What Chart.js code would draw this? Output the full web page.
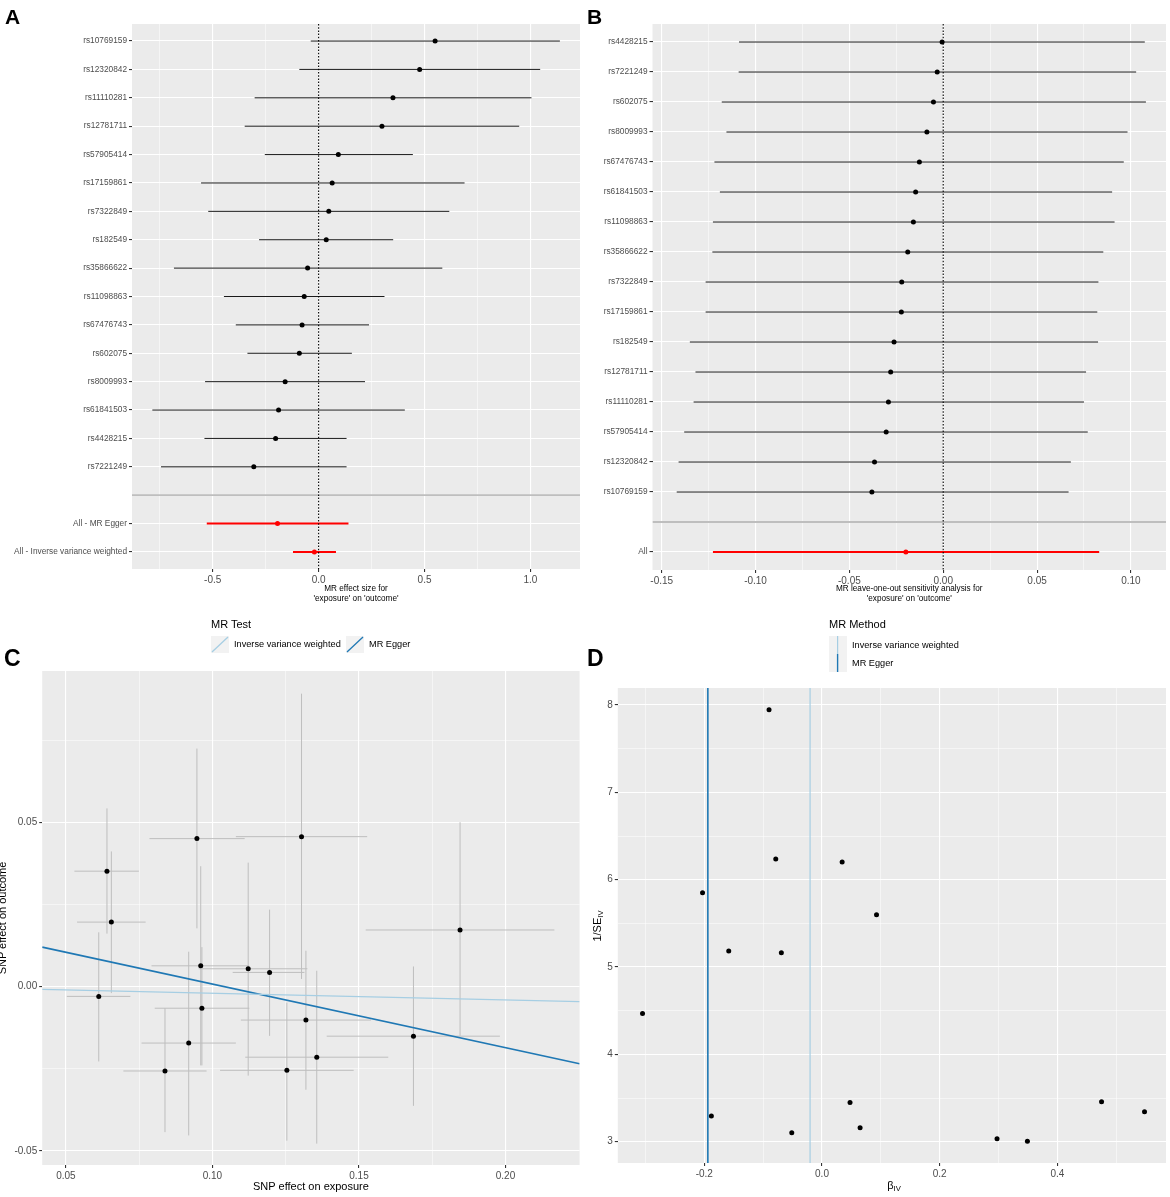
<!DOCTYPE html>
<html>
<head>
<meta charset="utf-8">
<title>MR plots</title>
<script src="https://cdn.jsdelivr.net/npm/chart.js@4.4.1/dist/chart.umd.min.js"></script>
<style>
html, body { margin: 0; padding: 0; background: #fff; }
#fig { position: relative; width: 1170px; height: 1197px; overflow: hidden;
       font-family: 'Liberation Sans', Arial, Helvetica, sans-serif; color: #000; }
canvas { position: absolute; }
.lab { position: absolute; font-weight: bold; line-height: 1; }
.txt { position: absolute; white-space: nowrap; line-height: 1; }
.rot { position: absolute; white-space: nowrap; line-height: 1; transform: translate(-50%, -50%) rotate(-90deg); }
.key { position: absolute; }
sub { font-size: 0.7em; vertical-align: -0.3em; line-height: 0; }
</style>
</head>
<body>
<div id="fig">
  <canvas id="cA" width="585" height="610" style="left:0;top:0"></canvas>
  <canvas id="cB" width="585" height="610" style="left:585px;top:0"></canvas>
  <canvas id="cC" width="585" height="587" style="left:0;top:610px"></canvas>
  <canvas id="cD" width="585" height="587" style="left:585px;top:610px"></canvas>

  <div class="lab" style="left:5px;top:6px;font-size:21px">A</div>
  <div class="lab" style="left:587px;top:6px;font-size:21px">B</div>
  <div class="lab" style="left:4px;top:647px;font-size:23px">C</div>
  <div class="lab" style="left:587px;top:647px;font-size:23px">D</div>

  <!-- legend C -->
  <div class="txt" style="left:211px;top:619px;font-size:11px">MR Test</div>
  <svg class="key" style="left:211px;top:636px" width="18" height="17">
    <rect width="18" height="17" fill="#F2F2F2"/>
    <line x1="1" y1="16" x2="17" y2="1" stroke="#A6CEE3" stroke-width="1.3"/>
  </svg>
  <div class="txt" style="left:234px;top:636px;font-size:9.2px;line-height:17px">Inverse variance weighted</div>
  <svg class="key" style="left:346px;top:636px" width="18" height="17">
    <rect width="18" height="17" fill="#F2F2F2"/>
    <line x1="1" y1="16" x2="17" y2="1" stroke="#1F78B4" stroke-width="1.3"/>
  </svg>
  <div class="txt" style="left:369px;top:636px;font-size:9.2px;line-height:17px">MR Egger</div>

  <!-- legend D -->
  <div class="txt" style="left:829px;top:619px;font-size:11px">MR Method</div>
  <svg class="key" style="left:829px;top:636px" width="18" height="36">
    <rect width="18" height="36" fill="#F2F2F2"/>
    <line x1="8.6" y1="0" x2="8.6" y2="18" stroke="#A6CEE3" stroke-width="1.2"/>
    <line x1="8.6" y1="18" x2="8.6" y2="36" stroke="#1F78B4" stroke-width="1.4"/>
  </svg>
  <div class="txt" style="left:852px;top:636px;font-size:9.2px;line-height:18px">Inverse variance weighted</div>
  <div class="txt" style="left:852px;top:654px;font-size:9.2px;line-height:18px">MR Egger</div>

  <!-- axis titles that need subscripts or clipping -->
  <div class="rot" style="left:2px;top:918px;font-size:11px">SNP effect on outcome</div>
  <div class="rot" style="left:597px;top:926px;font-size:11px">1/SE<sub>IV</sub></div>
  <div class="txt" style="left:894px;top:1185px;font-size:11px;transform:translate(-50%,-50%)">&beta;<sub>IV</sub></div>
</div>

<script>
// ---------- A: single SNP effects ----------
const snpA = ['rs10769159', 'rs12320842', 'rs11110281', 'rs12781711', 'rs57905414', 'rs17159861',
  'rs7322849', 'rs182549', 'rs35866622', 'rs11098863', 'rs67476743', 'rs602075', 'rs8009993',
  'rs61841503', 'rs4428215', 'rs7221249'];
const betaA = [0.550, 0.477, 0.351, 0.299, 0.093, 0.064, 0.048, 0.036, -0.052, -0.068, -0.078,
  -0.091, -0.158, -0.189, -0.203, -0.306];
const loA = [-0.037, -0.091, -0.302, -0.349, -0.254, -0.555, -0.521, -0.281, -0.683, -0.447, -0.391,
  -0.336, -0.536, -0.785, -0.539, -0.744];
const hiA = [1.139, 1.046, 1.005, 0.947, 0.445, 0.689, 0.617, 0.352, 0.584, 0.311, 0.238,
  0.157, 0.219, 0.407, 0.132, 0.132];
const sumLabelsA = ['All - MR Egger', 'All - Inverse variance weighted'];
const sumBetaA = [-0.194, -0.020];
const sumLoA = [-0.528, -0.121];
const sumHiA = [0.141, 0.082];
const xTicksA = [-0.75, -0.5, -0.25, 0, 0.25, 0.5, 0.75, 1.0];
const xMajorA = [-0.5, 0, 0.5, 1.0];

// ---------- B: leave-one-out ----------
const snpB = ['rs4428215', 'rs7221249', 'rs602075', 'rs8009993', 'rs67476743', 'rs61841503',
  'rs11098863', 'rs35866622', 'rs7322849', 'rs17159861', 'rs182549', 'rs12781711', 'rs11110281',
  'rs57905414', 'rs12320842', 'rs10769159'];
const betaB = [-0.0006, -0.0032, -0.0052, -0.0087, -0.0127, -0.0147, -0.0159, -0.0189, -0.0221,
  -0.0223, -0.0262, -0.0280, -0.0292, -0.0304, -0.0366, -0.0380];
const loB = [-0.1088, -0.1090, -0.1180, -0.1155, -0.1219, -0.1190, -0.1227, -0.1230, -0.1266,
  -0.1266, -0.1350, -0.1320, -0.1330, -0.1380, -0.1410, -0.1420];
const hiB = [0.1074, 0.1028, 0.1080, 0.0982, 0.0962, 0.0900, 0.0913, 0.0853, 0.0827,
  0.0821, 0.0825, 0.0761, 0.0750, 0.0770, 0.0680, 0.0668];
const sumLabelsB = ['All'];
const sumBetaB = [-0.0199];
const sumLoB = [-0.1227];
const sumHiB = [0.0831];
const xTicksB = [-0.15, -0.125, -0.1, -0.075, -0.05, -0.025, 0, 0.025, 0.05, 0.075, 0.1];
const xMajorB = [-0.15, -0.1, -0.05, 0, 0.05, 0.1];

// ---------- C: scatter of SNP effects ----------
const xC    = [0.0655, 0.0640, 0.0947, 0.1304, 0.1845, 0.0612, 0.0960, 0.1122, 0.0964, 0.1195, 0.0919, 0.0838, 0.1254, 0.1319, 0.1356, 0.1686];
const xLoC  = [0.0538, 0.0529, 0.0785, 0.1080, 0.1523, 0.0503, 0.0792, 0.0953, 0.0803, 0.1069, 0.0758, 0.0696, 0.1026, 0.1097, 0.1112, 0.1390];
const xHiC  = [0.0772, 0.0749, 0.1110, 0.1528, 0.2167, 0.0720, 0.1125, 0.1324, 0.1126, 0.1314, 0.1080, 0.0980, 0.1482, 0.1541, 0.1600, 0.1981];
const yC    = [0.0196, 0.0351, 0.0450, 0.0456, 0.0172, -0.0030, 0.0063, 0.0054, -0.0066, 0.0043, -0.0172, -0.0257, -0.0255, -0.0102, -0.0215, -0.0151];
const yLoC  = [-0.0020, 0.0161, 0.0177, 0.0023, -0.0150, -0.0228, -0.0240, -0.0271, -0.0240, -0.0150, -0.0453, -0.0443, -0.0469, -0.0314, -0.0478, -0.0363];
const yHiC  = [0.0411, 0.0542, 0.0724, 0.0891, 0.0500, 0.0165, 0.0366, 0.0377, 0.0120, 0.0234, 0.0106, -0.0066, -0.0049, 0.0109, 0.0048, 0.0061];
const methods = ['Inverse variance weighted', 'MR Egger'];
const methodColors = ['#A6CEE3', '#1F78B4'];
const methodSlope = [-0.0203, -0.1936];
const methodIntercept = [0, 0.0201];
const xTicksC = [0.05, 0.075, 0.1, 0.125, 0.15, 0.175, 0.2];
const xMajorC = [0.05, 0.1, 0.15, 0.2];
const yTicksC = [-0.05, -0.025, 0, 0.025, 0.05, 0.075];
const yMajorC = [-0.05, 0, 0.05];

// ---------- D: funnel ----------
const betaD = [-0.090, -0.0786, 0.0342, -0.203, 0.0926, -0.1585, -0.0691, -0.305, 0.0476, 0.475, 0.548, -0.188, 0.0647, -0.0514, 0.2974, 0.349];
const invSeD = [7.947, 6.237, 6.203, 5.851, 5.598, 5.183, 5.164, 4.469, 3.450, 3.457, 3.343, 3.293, 3.160, 3.103, 3.034, 3.004];
const methodBetaD = [-0.0203, -0.194];
const xTicksD = [-0.3, -0.2, -0.1, 0, 0.1, 0.2, 0.3, 0.4, 0.5];
const xMajorD = [-0.2, 0, 0.2, 0.4];
const yTicksD = [3, 3.5, 4, 4.5, 5, 5.5, 6, 6.5, 7, 7.5, 8];
const yMajorD = [3, 4, 5, 6, 7, 8];

Chart.defaults.font.family = "'Liberation Sans', Arial, Helvetica, sans-serif";
Chart.defaults.color = '#4D4D4D';
Chart.defaults.animation = false;
Chart.defaults.events = [];

const panelBg = {
  id: 'panelBg',
  beforeDraw(chart) {
    const { ctx, chartArea: a } = chart;
    ctx.save();
    ctx.fillStyle = '#EBEBEB';
    ctx.fillRect(a.left, a.top, a.right - a.left, a.bottom - a.top);
    ctx.restore();
  }
};

const near = (a, b) => Math.abs(a - b) < 1e-9;
const isMajor = (v, majors) => majors.some(m => near(m, v));

function axis(o) {
  const marked = o.marked || o.majors;
  return {
    type: 'linear', position: o.pos, min: o.min, max: o.max, reverse: !!o.reverse,
    afterBuildTicks: s => { s.ticks = o.ticks.map(v => ({ value: v })); },
    afterFit: s => { if (o.pos === 'left') s.width = o.size; else s.height = o.size; },
    ticks: {
      autoSkip: false, maxRotation: 0, minRotation: 0, padding: 2,
      font: { size: o.fontSize }, color: '#4D4D4D',
      callback: v => isMajor(v, o.majors) ? o.labelFor(v) : ''
    },
    grid: {
      color: '#FFFFFF',
      lineWidth: c => (c.tick && isMajor(c.tick.value, o.majors)) ? 1.1 : 0.5,
      tickColor: c => (c.tick && isMajor(c.tick.value, marked)) ? '#333333' : 'rgba(0,0,0,0)',
      tickLength: 3
    },
    border: { display: false },
    title: o.title || { display: false }
  };
}

function seg(x1, y1, x2, y2, color, width, dash, order) {
  return {
    data: [{ x: x1, y: y1 }, { x: x2, y: y2 }],
    showLine: true, borderColor: color, borderWidth: width, borderDash: dash || [],
    pointRadius: 0, fill: false, tension: 0, order: order
  };
}

function forest(id, snps, beta, lo, hi, sumLabels, sumBeta, sumLo, sumHi, xs) {
  const rows = snps.concat([''], sumLabels);
  const n = rows.length;
  const sep = snps.length + 1;
  const pts = [], cols = [];
  snps.forEach((s, i) => { pts.push({ x: beta[i], y: i + 1 }); cols.push('#000000'); });
  sumLabels.forEach((s, j) => { pts.push({ x: sumBeta[j], y: sep + 1 + j }); cols.push('#FF0000'); });
  const sets = [{ data: pts, pointRadius: 2.5, pointBackgroundColor: cols, pointBorderColor: cols,
    pointBorderWidth: 0, order: 0 }];
  snps.forEach((s, i) => sets.push(seg(lo[i], i + 1, hi[i], i + 1, '#1A1A1A', 1, null, 2)));
  sumLabels.forEach((s, j) => sets.push(seg(sumLo[j], sep + 1 + j, sumHi[j], sep + 1 + j, '#FF0000', 2, null, 2)));
  sets.push(seg(0, 0.4, 0, n + 0.6, '#000000', 1.1, [1.5, 1.7], 1));
  sets.push(seg(xs.min, sep, xs.max, sep, '#BEBEBE', 1.8, null, 1));

  const rowPos = rows.map((r, i) => i + 1);
  new Chart(document.getElementById(id), {
    type: 'scatter',
    data: { datasets: sets },
    options: {
      responsive: false, animation: false,
      layout: { padding: xs.pad },
      plugins: { legend: { display: false }, tooltip: { enabled: false } },
      scales: {
        x: axis({ pos: 'bottom', min: xs.min, max: xs.max, ticks: xs.ticks, majors: xs.majors,
          labelFor: xs.labelFor, size: xs.h, fontSize: 10,
          title: { display: true, text: xs.title, color: '#000000',
            font: { size: 8.2, lineHeight: 1.15 }, padding: { top: 0, bottom: 7 } } }),
        y: axis({ pos: 'left', min: 0.4, max: n + 0.6, reverse: true,
          ticks: rowPos, majors: rowPos, marked: rowPos.filter(p => p !== sep),
          labelFor: v => rows[Math.round(v) - 1], size: xs.w, fontSize: 8.3 })
      }
    },
    plugins: [panelBg]
  });
}

forest('cA', snpA, betaA, loA, hiA, sumLabelsA, sumBetaA, sumLoA, sumHiA, {
  min: -0.881, max: 1.234, ticks: xTicksA, majors: xMajorA,
  labelFor: v => v.toFixed(1), w: 132, h: 41,
  pad: { left: 0, top: 24, right: 5, bottom: 0 },
  title: ['MR effect size for', "'exposure' on 'outcome'"]
});

forest('cB', snpB, betaB, loB, hiB, sumLabelsB, sumBetaB, sumLoB, sumHiB, {
  min: -0.1549, max: 0.1187, ticks: xTicksB, majors: xMajorB,
  labelFor: v => v.toFixed(2), w: 67.5, h: 40,
  pad: { left: 0, top: 24, right: 4, bottom: 0 },
  title: ['MR leave-one-out sensitivity analysis for', "'exposure' on 'outcome'"]
});

// ---------- C ----------
(function () {
  const xMin = 0.0419, xMax = 0.2253;
  const sets = [];
  methods.forEach((m, k) => {
    sets.push(seg(xMin, methodIntercept[k] + methodSlope[k] * xMin,
      xMax, methodIntercept[k] + methodSlope[k] * xMax, methodColors[k], k === 1 ? 1.6 : 1.3, null, 0));
  });
  sets.push({ data: xC.map((x, i) => ({ x: x, y: yC[i] })), pointRadius: 2.5,
    pointBackgroundColor: '#000000', pointBorderColor: '#000000', pointBorderWidth: 0, order: 1 });
  xC.forEach((x, i) => {
    sets.push(seg(x, yLoC[i], x, yHiC[i], '#BEBEBE', 1, null, 2));
    sets.push(seg(xLoC[i], yC[i], xHiC[i], yC[i], '#BEBEBE', 1, null, 2));
  });
  new Chart(document.getElementById('cC'), {
    type: 'scatter',
    data: { datasets: sets },
    options: {
      responsive: false, animation: false,
      layout: { padding: { left: 0, top: 61, right: 5.4, bottom: 0 } },
      plugins: { legend: { display: false }, tooltip: { enabled: false } },
      scales: {
        x: axis({ pos: 'bottom', min: xMin, max: xMax, ticks: xTicksC, majors: xMajorC,
          labelFor: v => v.toFixed(2), size: 32, fontSize: 10,
          title: { display: true, text: 'SNP effect on exposure', color: '#000000',
            font: { size: 11, lineHeight: 1.2 }, padding: { top: 0, bottom: 3.4 } } }),
        y: axis({ pos: 'left', min: -0.0543, max: 0.096, ticks: yTicksC, majors: yMajorC,
          labelFor: v => v.toFixed(2), size: 42.2, fontSize: 10 })
      }
    },
    plugins: [panelBg]
  });
})();

// ---------- D ----------
(function () {
  const yMin = 2.756, yMax = 8.195;
  const sets = [];
  sets.push({ data: betaD.map((b, i) => ({ x: b, y: invSeD[i] })), pointRadius: 2.5,
    pointBackgroundColor: '#000000', pointBorderColor: '#000000', pointBorderWidth: 0, order: 0 });
  methods.forEach((m, k) => {
    sets.push(seg(methodBetaD[k], yMin, methodBetaD[k], yMax, methodColors[k], k === 1 ? 1.6 : 1.2, null, 1));
  });
  new Chart(document.getElementById('cD'), {
    type: 'scatter',
    data: { datasets: sets },
    options: {
      responsive: false, animation: false,
      layout: { padding: { left: 0, top: 78, right: 4, bottom: 0 } },
      plugins: { legend: { display: false }, tooltip: { enabled: false } },
      scales: {
        x: axis({ pos: 'bottom', min: -0.347, max: 0.5845, ticks: xTicksD, majors: xMajorD,
          labelFor: v => v.toFixed(1), size: 34, fontSize: 10 }),
        y: axis({ pos: 'left', min: yMin, max: yMax, ticks: yTicksD, majors: yMajorD,
          labelFor: v => String(Math.round(v)), size: 32.8, fontSize: 10 })
      }
    },
    plugins: [panelBg]
  });
})();
</script>
</body>
</html>
